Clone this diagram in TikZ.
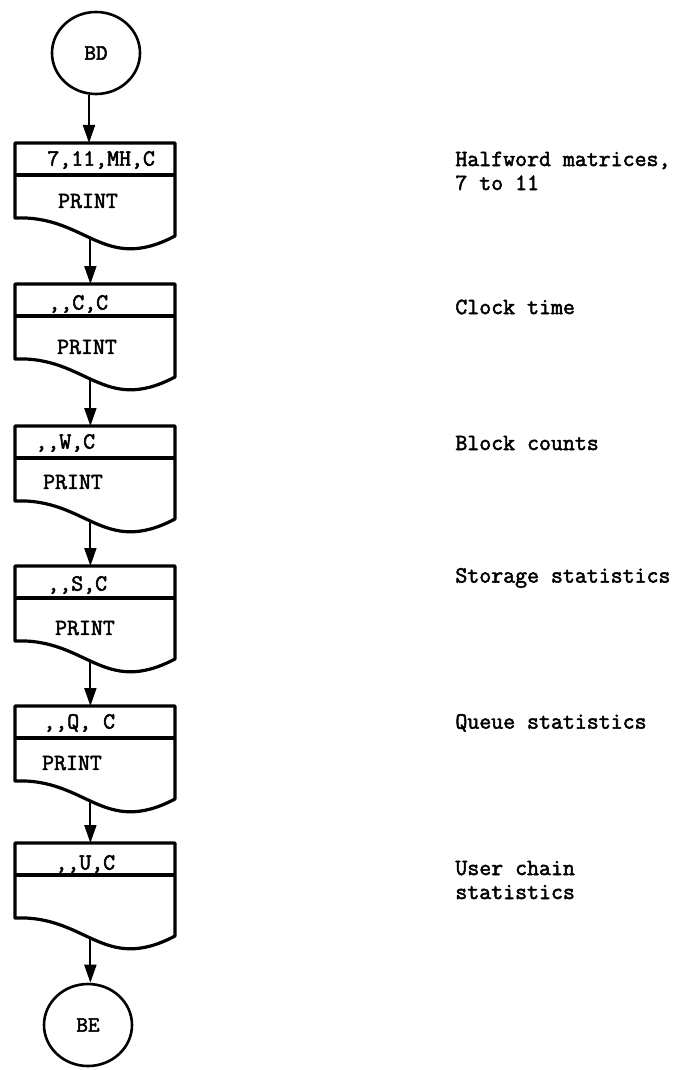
\documentclass[tikz,border=0pt]{standalone}
\usepackage{fontspec}
\setmonofont{Latin Modern Mono}[AutoFakeBold=2.2]
\usetikzlibrary{arrows.meta,shapes.geometric}

\tikzset{
	doc/.style={line width=1.6pt, line join=round},
	term/.style={ellipse, draw, line width=1.3pt, minimum width=44pt, minimum height=41pt, inner sep=0pt, font=\ttfamily\bfseries\fontsize{11}{13}\selectfont},
	flow/.style={line width=1pt, -{Triangle[length=9pt,width=6pt]}},
	lbl/.style={font=\ttfamily\bfseries\fontsize{11.6}{12}\selectfont, inner sep=0pt},
	note/.style={lbl, anchor=west, align=left}
}

\begin{document}
\begin{tikzpicture}[x=0.5pt,y=-0.5pt]
	\useasboundingbox (0,0) rectangle (685,1070);
	\node[term] (bd) at (96,53) {BD};
	\node[term] (be) at (88,1025) {BE};
	\foreach \i/\t/\hd/\hx/\hy in {1/143/{7,11,MH,C}/47/160, 2/284/{,,C,C}/48/304, 3/426/{,,W,C}/35/443, 4/566/{,,S,C}/47/585, 5/706/{,,Q, C}/43/723, 6/843/{,,U,C}/55/864}{
		\draw[doc] (15,\t) -- (15,\t+75) .. controls (87,\t+72) and (103,\t+131) .. (175,\t+93) coordinate[pos=0.465] (b\i) -- (175,\t) -- cycle;
		\draw[doc] (15,\t+32) -- (175,\t+32);
		\coordinate (t\i) at (89,\t);
		\node[lbl, anchor=west] (h\i) at (\hx,\hy) {\hd};
	}
	\foreach \i/\x/\y in {1/88/201, 2/87/347, 3/73/482, 4/85/628, 5/72/763}
		\node[lbl] (p\i) at (\x,\y) {PRINT};
	\node[note] (n1) at (455,171) {Halfword matrices,\\7 to 11};
	\node[note] (n2) at (455,307) {Clock time};
	\node[note] (n3) at (455,443) {Block counts};
	\node[note] (n4) at (455,578) {Storage statistics};
	\node[note] (n5) at (455,723) {Queue statistics};
	\node[note] (n6) at (455,880) {User chain\\statistics};
	\draw[flow] (t1 |- bd.south) -- (t1);
	\draw[flow] (b1) -- (b1 |- t2);
	\draw[flow] (b2) -- (b2 |- t3);
	\draw[flow] (b3) -- (b3 |- t4);
	\draw[flow] (b4) -- (b4 |- t5);
	\draw[flow] (b5) -- (b5 |- t6);
	\draw[flow] (b6) -- (b6 |- be.north);
\end{tikzpicture}
\end{document}
